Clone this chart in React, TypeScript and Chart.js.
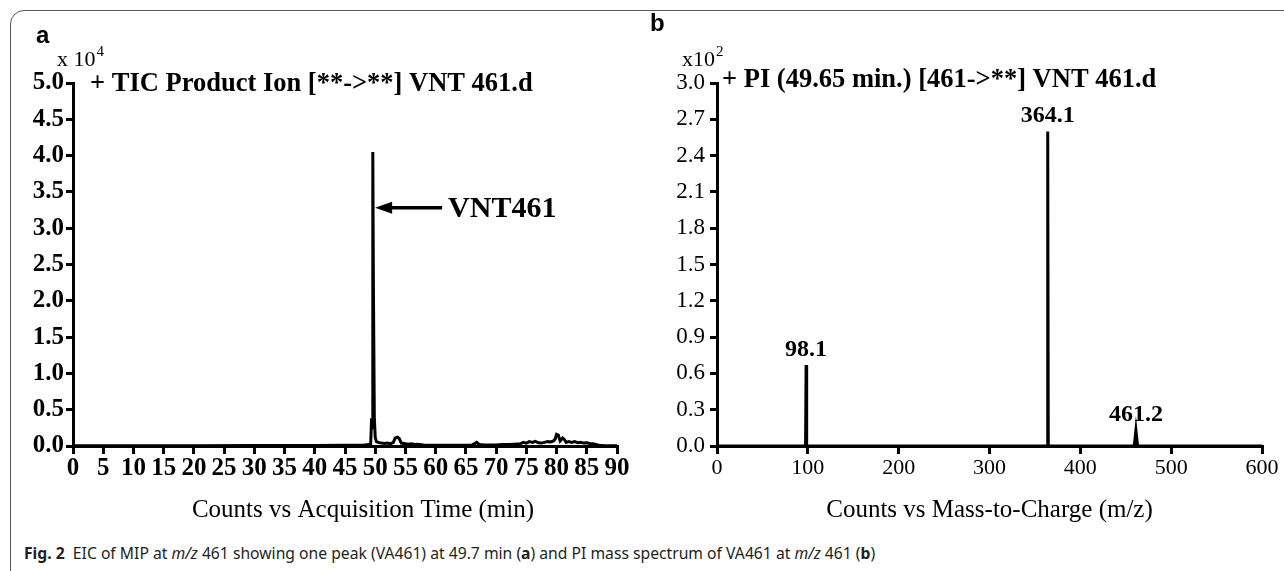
import React, { useEffect, useRef } from "react";
import { Chart, registerables } from "chart.js";

Chart.register(...registerables);

// ---------- Data: panel a (TIC chromatogram, counts x 10^4) ----------
const ticTime = [
  0, 10, 20, 30, 40, 45, 48, 49, 49.25, 49.4, 49.5, 49.6, 49.7, 49.85, 50.0, 50.2,
  50.5, 51, 51.5, 52, 52.5, 53, 53.3, 53.7, 54, 54.3, 55, 55.5, 56, 56.5, 57, 58,
  59, 60, 62, 64, 66, 66.8, 67.2, 68, 70, 71, 72, 73, 74, 74.5, 75, 75.5, 76, 76.5,
  77, 77.5, 78, 78.5, 79, 79.5, 79.8, 80, 80.3, 80.6, 81, 81.3, 81.6, 82, 82.5, 83,
  83.5, 84, 84.5, 85, 85.5, 86, 86.5, 87, 88, 90,
];
const ticCounts = [
  0.005, 0.005, 0.005, 0.006, 0.008, 0.01, 0.01, 0.02, 0.03, 0.38, 0.25, 4.05, 2.2, 0.4, 0.12, 0.06,
  0.05, 0.04, 0.035, 0.04, 0.03, 0.05, 0.11, 0.12, 0.1, 0.04, 0.03, 0.025, 0.03, 0.02, 0.025, 0.015,
  0.012, 0.01, 0.01, 0.012, 0.012, 0.05, 0.02, 0.015, 0.015, 0.02, 0.02, 0.025, 0.03, 0.05, 0.04, 0.06, 0.05, 0.065,
  0.045, 0.04, 0.05, 0.06, 0.055, 0.07, 0.1, 0.16, 0.15, 0.07, 0.11, 0.09, 0.05, 0.06, 0.05, 0.06,
  0.045, 0.05, 0.04, 0.045, 0.035, 0.03, 0.02, 0.01, 0.005, 0.005,
];
const leftXTicks = [0, 5, 10, 15, 20, 25, 30, 35, 40, 45, 50, 55, 60, 65, 70, 75, 80, 85, 90];
const leftYTicks = [0, 0.5, 1.0, 1.5, 2.0, 2.5, 3.0, 3.5, 4.0, 4.5, 5.0];
const annotatedTime = 49.65;
const annotatedLevel = 3.28;
const annotatedName = "VNT461";

// ---------- Data: panel b (PI spectrum, counts x 10^2) ----------
const mzAxis = [0, 97.5, 98.1, 98.7, 363.5, 364.1, 364.7, 459.4, 461.2, 463.0, 600];
const mzCounts = [0, 0, 0.67, 0, 0, 2.6, 0, 0, 0.13, 0, 0];
const peakMz = [98.1, 364.1, 461.2];
const peakTop = [0.67, 2.6, 0.13];
const peakText = ["98.1", "364.1", "461.2"];
const rightXTicks = [0, 100, 200, 300, 400, 500, 600];
const rightYTicks = [0, 0.3, 0.6, 0.9, 1.2, 1.5, 1.8, 2.1, 2.4, 2.7, 3.0];

const SERIF = "'Liberation Serif', 'Times New Roman', serif";
const SANS = "'Liberation Sans', Arial, sans-serif";

function setTicks(values: number[]) {
  return (scale: any) => {
    scale.ticks = values.map((v) => ({ value: v }));
  };
}

function axisStyle(tickLength: number) {
  return {
    grid: {
      display: true,
      drawOnChartArea: false,
      drawTicks: true,
      tickLength,
      lineWidth: 3,
      color: "#000",
    },
    border: { display: true, width: 3, color: "#000" },
  };
}

function drawSup(ctx: CanvasRenderingContext2D, x: number, y: number, base: string, sup: string, size: number) {
  ctx.save();
  ctx.fillStyle = "#000";
  ctx.textBaseline = "alphabetic";
  ctx.textAlign = "left";
  ctx.font = `${size}px ${SERIF}`;
  ctx.fillText(base, x, y);
  const w = ctx.measureText(base).width;
  ctx.font = `${Math.round(size * 0.68)}px ${SERIF}`;
  ctx.fillText(sup, x + w + 1, y - size * 0.45);
  ctx.restore();
}

const panelAPlugin = {
  id: "panelA",
  afterDraw(chart: any) {
    const { ctx, chartArea } = chart;
    const xs = chart.scales.x;
    const ys = chart.scales.y;
    ctx.save();
    ctx.fillStyle = "#000";
    // panel letter
    ctx.font = `bold 24px ${SANS}`;
    ctx.textBaseline = "alphabetic";
    ctx.textAlign = "left";
    ctx.fillText("a", 36, 43);
    // multiplier
    drawSup(ctx, 57, 66, "x 10", "4", 22);
    // title
    ctx.font = `bold 26.5px ${SERIF}`;
    ctx.textBaseline = "middle";
    ctx.fillText("+ TIC Product Ion [**->**] VNT 461.d", 90, chartArea.top + 1);
    // arrow
    const tipX = xs.getPixelForValue(annotatedTime) + 2;
    const tipY = ys.getPixelForValue(annotatedLevel);
    const endX = tipX + 67;
    ctx.strokeStyle = "#000";
    ctx.lineWidth = 3.5;
    ctx.beginPath();
    ctx.moveTo(tipX + 12, tipY);
    ctx.lineTo(endX, tipY);
    ctx.stroke();
    ctx.beginPath();
    ctx.moveTo(tipX, tipY);
    ctx.lineTo(tipX + 17, tipY - 6);
    ctx.lineTo(tipX + 17, tipY + 6);
    ctx.closePath();
    ctx.fill();
    ctx.font = `bold 30px ${SERIF}`;
    ctx.textBaseline = "middle";
    ctx.fillText(annotatedName, endX + 6, tipY + 1);
    // axis title
    ctx.font = `25px ${SERIF}`;
    ctx.textAlign = "center";
    ctx.fillText("Counts vs Acquisition Time (min)", (chartArea.left + chartArea.right) / 2 + 18, 510);
    ctx.restore();
  },
};

const panelBPlugin = {
  id: "panelB",
  afterDraw(chart: any) {
    const { ctx, chartArea } = chart;
    const xs = chart.scales.x;
    const ys = chart.scales.y;
    ctx.save();
    ctx.fillStyle = "#000";
    ctx.font = `bold 24px ${SANS}`;
    ctx.textBaseline = "alphabetic";
    ctx.textAlign = "left";
    ctx.fillText("b", 10, 31);
    drawSup(ctx, 42, 66, "x10", "2", 22);
    ctx.font = `bold 26.5px ${SERIF}`;
    ctx.textBaseline = "middle";
    ctx.fillText("+ PI (49.65 min.) [461->**] VNT 461.d", chartArea.left + 5, chartArea.top - 3);
    // peak labels
    ctx.font = `bold 24px ${SERIF}`;
    ctx.textAlign = "center";
    ctx.textBaseline = "alphabetic";
    peakMz.forEach((mz, i) => {
      const px = xs.getPixelForValue(mz);
      const py = ys.getPixelForValue(peakTop[i]);
      ctx.fillText(peakText[i], px, py - 9);
    });
    ctx.font = `25px ${SERIF}`;
    ctx.textBaseline = "middle";
    ctx.fillText("Counts vs Mass-to-Charge (m/z)", (chartArea.left + chartArea.right) / 2, 510);
    ctx.restore();
  },
};

function PanelA() {
  const ref = useRef<HTMLCanvasElement | null>(null);
  useEffect(() => {
    if (!ref.current) return;
    const chart = new Chart(ref.current, {
      type: "line",
      data: {
        datasets: [
          {
            data: ticTime.map((t, i) => ({ x: t, y: ticCounts[i] })),
            borderColor: "#000",
            borderWidth: 3,
            pointRadius: 0,
            tension: 0,
            fill: false,
          },
        ],
      },
      options: {
        responsive: false,
        animation: false,
        layout: { padding: { left: 0, top: 83, right: 23, bottom: 54 } },
        plugins: { legend: { display: false }, tooltip: { enabled: false } },
        scales: {
          x: {
            type: "linear",
            min: 0,
            max: 90,
            afterBuildTicks: setTicks(leftXTicks),
            afterFit: (s: any) => {
              s.height = 40;
            },
            ...axisStyle(8),
            ticks: {
              color: "#000",
              font: { family: SERIF, size: 25, weight: "bold" },
              padding: 0,
              maxRotation: 0,
              autoSkip: false,
            },
          },
          y: {
            type: "linear",
            min: 0,
            max: 5,
            afterBuildTicks: setTicks(leftYTicks),
            afterFit: (s: any) => {
              s.width = 73;
            },
            ...axisStyle(7),
            ticks: {
              color: "#000",
              font: { family: SERIF, size: 25, weight: "bold" },
              padding: 2,
              callback: (v: any) => Number(v).toFixed(1),
            },
          },
        },
      } as any,
      plugins: [panelAPlugin],
    });
    return () => chart.destroy();
  }, []);
  return (
    <canvas
      ref={ref}
      width={640}
      height={540}
      style={{ position: "absolute", left: 0, top: 0, width: 640, height: 540 }}
    />
  );
}

function PanelB() {
  const ref = useRef<HTMLCanvasElement | null>(null);
  useEffect(() => {
    if (!ref.current) return;
    const chart = new Chart(ref.current, {
      type: "line",
      data: {
        datasets: [
          {
            data: mzAxis.map((m, i) => ({ x: m, y: mzCounts[i] })),
            borderColor: "#000",
            borderWidth: 3,
            pointRadius: 0,
            tension: 0,
            fill: false,
          },
        ],
      },
      options: {
        responsive: false,
        animation: false,
        layout: { padding: { left: 0, top: 83, right: 22, bottom: 54 } },
        plugins: { legend: { display: false }, tooltip: { enabled: false } },
        scales: {
          x: {
            type: "linear",
            min: 0,
            max: 600,
            afterBuildTicks: setTicks(rightXTicks),
            afterFit: (s: any) => {
              s.height = 40;
            },
            ...axisStyle(8),
            ticks: {
              color: "#000",
              font: { family: SERIF, size: 22 },
              padding: 1,
              maxRotation: 0,
              autoSkip: false,
            },
          },
          y: {
            type: "linear",
            min: 0,
            max: 3,
            afterBuildTicks: setTicks(rightYTicks),
            afterFit: (s: any) => {
              s.width = 77;
            },
            ...axisStyle(7),
            ticks: {
              color: "#000",
              font: { family: SERIF, size: 23 },
              padding: 5,
              callback: (v: any) => Number(v).toFixed(1),
            },
          },
        },
      } as any,
      plugins: [panelBPlugin],
    });
    return () => chart.destroy();
  }, []);
  return (
    <canvas
      ref={ref}
      width={644}
      height={540}
      style={{ position: "absolute", left: 640, top: 0, width: 644, height: 540 }}
    />
  );
}

export default function App() {
  return (
    <div
      style={{
        position: "absolute",
        left: 0,
        top: 0,
        width: 1284,
        height: 571,
        overflow: "hidden",
        background: "#fff",
      }}
    >
      <div
        style={{
          position: "absolute",
          left: 10,
          top: 10,
          width: 1320,
          height: 620,
          border: "1.5px solid #555",
          borderRadius: 14,
          boxSizing: "border-box",
        }}
      />
      <PanelA />
      <PanelB />
      <div
        style={{
          position: "absolute",
          left: 24,
          top: 542,
          fontFamily: "'Noto Sans', sans-serif",
          fontSize: 15.7,
          color: "#231f20",
          whiteSpace: "nowrap",
          lineHeight: "22px",
        }}
      >
        <b>Fig. 2</b>&nbsp; EIC of MIP at <i>m/z</i> 461 showing one peak (VA461) at 49.7 min (<b>a</b>) and PI mass
        spectrum of VA461 at <i>m/z</i> 461 (<b>b</b>)
      </div>
    </div>
  );
}
